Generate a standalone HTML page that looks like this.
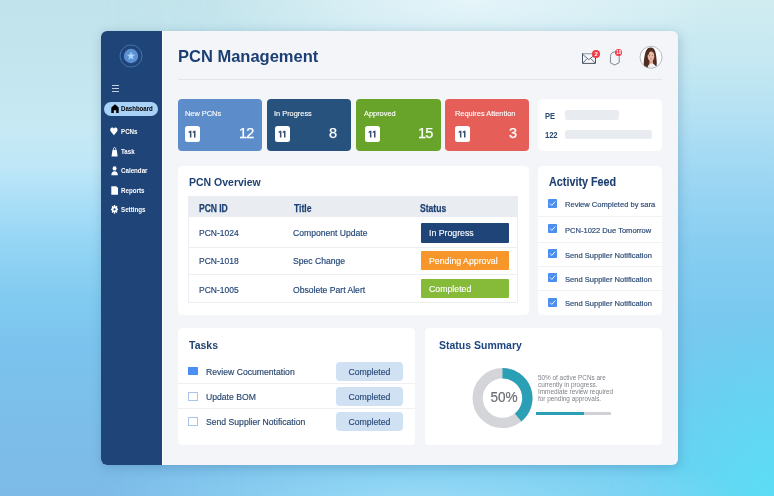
<!DOCTYPE html>
<html><head><meta charset="utf-8"><style>
html,body{margin:0;padding:0;}
body{width:774px;height:496px;overflow:hidden;position:relative;font-family:"Liberation Sans", sans-serif;
background:linear-gradient(180deg,#c1e3eb 0px,#c3e5ee 60px,#c6e9f4 130px,#bfe7f8 165px,#a6ddf7 210px,#92d4f4 250px,#81caf0 300px,#7bc3ee 350px,#7cbeea 420px,#7dbae8 496px);}
#bgR{left:0;top:0;width:774px;height:496px;background:radial-gradient(ellipse 140px 190px at 774px 496px, rgba(90,222,246,0.9), rgba(90,222,246,0) 100%),linear-gradient(180deg,#d0ecf1 0px,#c6e8f2 60px,#b2e0f3 120px,#9cd6f3 180px,#86cdf1 250px,#79c8ef 320px,#70caef 400px,#6ad0f1 496px);
 -webkit-mask-image:linear-gradient(90deg,transparent 101px,#000 678px);mask-image:linear-gradient(90deg,transparent 101px,#000 678px);}
#bgL{left:0;top:0;width:774px;height:496px;background:radial-gradient(ellipse 260px 70px at 470px 0px, rgba(232,246,251,0.9), rgba(232,246,251,0) 100%),
 radial-gradient(ellipse 330px 55px at 420px 500px, rgba(160,222,248,0.85), rgba(160,222,248,0) 100%);}
body > div, body > svg{position:absolute;}
.t,.badge{will-change:transform;}
.t{position:absolute;white-space:nowrap;line-height:1;}
.badge{position:absolute;border-radius:50%;background:#ef3a45;color:#fff;font-weight:bold;text-align:center;}
.nb{position:absolute;width:15.2px;height:15.2px;background:#fff;border-radius:2.5px;color:#2a3d58;font-weight:bold;font-size:8.6px;line-height:15.6px;text-align:center;letter-spacing:-0.6px;text-indent:-0.6px;}
#shadow{left:101px;top:31px;width:577px;height:434px;border-radius:6px;box-shadow:1px 2px 11px rgba(60,100,135,0.3);}
</style></head><body>
<div id="bgR"></div>
<div id="bgL"></div>
<div id="shadow"></div>
<div style="left:101px;top:31px;width:577px;height:434px;background:#f4f5f9;border-radius:6px;"></div>
<div style="left:101px;top:31px;width:61px;height:434px;background:#1f4477;border-radius:0px;border-radius:6px 0 0 6px;"></div>
<div style="left:162px;top:31px;width:1px;height:434px;background:#fbfcfd;border-radius:0px;"></div>
<svg style="position:absolute;left:119px;top:44px" width="24" height="24" viewBox="0 0 24 24">
<circle cx="12" cy="12" r="11" fill="none" stroke="#4a7dbf" stroke-width="0.8"/>
<circle cx="12" cy="12" r="7.2" fill="#5b8fd1"/>
<path d="M12.00 8.30 L12.95 10.79 L15.61 10.93 L13.54 12.60 L14.23 15.17 L12.00 13.72 L9.77 15.17 L10.46 12.60 L8.39 10.93 L11.05 10.79 Z" stroke="#aad6fb" stroke-width="0.5" stroke-linejoin="round" fill="#aad6fb"/>
</svg>
<div style="left:112.3px;top:85.3px;width:6.6px;height:0.6px;background:#c3cfdf;border-radius:0px;"></div>
<div style="left:112.3px;top:87.9px;width:6.6px;height:0.6px;background:#c3cfdf;border-radius:0px;"></div>
<div style="left:112.3px;top:90.5px;width:6.6px;height:0.6px;background:#c3cfdf;border-radius:0px;"></div>
<div style="left:104.1px;top:102px;width:54px;height:14px;background:#a8d3f7;border-radius:7px;"></div>
<svg style="position:absolute;left:110.5px;top:103.5px" width="8" height="9.5" viewBox="0 0 8 9.5">
<path d="M4 0.3 L7.7 3.6 L7.7 9.2 L5.2 9.2 L5.2 6.3 L2.8 6.3 L2.8 9.2 L0.3 9.2 L0.3 3.6 Z" fill="#000"/></svg>
<div class="t" style="left:121.4px;top:105.74px;font-size:6.1px;color:#000;font-weight:bold;transform:scaleY(1.18);transform-origin:0 5.16px;">Dashboard</div>
<div class="t" style="left:121.2px;top:128.95px;font-size:6.2px;color:#fff;font-weight:bold;transform:scaleY(1.2);transform-origin:0 5.25px;">PCNs</div>
<div class="t" style="left:121.2px;top:149.15px;font-size:6.2px;color:#fff;font-weight:bold;transform:scaleY(1.2);transform-origin:0 5.25px;">Task</div>
<div class="t" style="left:121.2px;top:167.95px;font-size:6.2px;color:#fff;font-weight:bold;transform:scaleY(1.2);transform-origin:0 5.25px;">Calendar</div>
<div class="t" style="left:121.2px;top:188.15px;font-size:6.2px;color:#fff;font-weight:bold;transform:scaleY(1.2);transform-origin:0 5.25px;">Reports</div>
<div class="t" style="left:121.2px;top:207.15px;font-size:6.2px;color:#fff;font-weight:bold;transform:scaleY(1.2);transform-origin:0 5.25px;">Settings</div>
<svg style="position:absolute;left:110.4px;top:127.2px" width="7.8" height="8.6" viewBox="0 0 9 9" preserveAspectRatio="none">
<path d="M4.5 8.6 L0.9 4.7 C-0.3 3.3 0.3 0.6 2.4 0.6 C3.4 0.6 4.1 1.2 4.5 1.9 C4.9 1.2 5.6 0.6 6.6 0.6 C8.7 0.6 9.3 3.3 8.1 4.7 Z" fill="#fff"/></svg>
<svg style="position:absolute;left:110.9px;top:146.6px" width="7.2" height="10" viewBox="0 0 8 10" preserveAspectRatio="none">
<path d="M2.6 3 C2.6 1.2 3.2 0.4 4 0.4 C4.8 0.4 5.4 1.2 5.4 3" fill="none" stroke="#fff" stroke-width="0.9"/>
<path d="M1.6 3 L6.4 3 L7.4 9.6 L0.6 9.6 Z" fill="#fff"/></svg>
<svg style="position:absolute;left:110.9px;top:166.4px" width="7.2" height="9.5" viewBox="0 0 8 9.5" preserveAspectRatio="none">
<circle cx="4" cy="2.4" r="2.2" fill="#fff"/>
<path d="M0.4 9.3 C0.4 6.6 1.8 5.3 4 5.3 C6.2 5.3 7.6 6.6 7.6 9.3 Z" fill="#fff"/></svg>
<svg style="position:absolute;left:110.8px;top:185.8px" width="7.5" height="9" viewBox="0 0 7.5 9">
<path d="M0.3 0.2 L5.2 0.2 L7.2 2.3 L7.2 8.8 L0.3 8.8 Z" fill="#fff"/></svg>
<svg style="position:absolute;left:110.8px;top:205.2px" width="7.1" height="8.7" viewBox="0 0 8 8" preserveAspectRatio="none">
<g fill="#fff"><circle cx="4" cy="4" r="2.8"/>
<rect x="3.2" y="0" width="1.6" height="8" rx="0.4"/>
<rect x="0" y="3.2" width="8" height="1.6" rx="0.4"/>
<rect x="3.2" y="0" width="1.6" height="8" rx="0.4" transform="rotate(45 4 4)"/>
<rect x="3.2" y="0" width="1.6" height="8" rx="0.4" transform="rotate(-45 4 4)"/></g>
<circle cx="4" cy="4" r="1.1" fill="#1f4477"/></svg>
<div class="t" style="left:178.3px;top:47.63px;font-size:16.5px;color:#1b3f74;font-weight:bold;">PCN Management</div>
<div style="left:178px;top:79px;width:484px;height:1px;background:#e1e4e9;border-radius:0px;"></div>
<svg style="position:absolute;left:581px;top:52px" width="17" height="13" viewBox="0 0 17 13">
<path d="M1.5 1.7 L14.5 1.7" stroke="#a3acb5" stroke-width="1.3"/>
<path d="M1.5 1.2 L1.5 11.4 L14.5 11.4 L14.5 1.2" fill="none" stroke="#4b5662" stroke-width="1"/>
<path d="M1.9 2.6 L7.9 7.6 L14.1 2.6 M1.9 11 L5.9 6.8 M14.1 11 L10 6.8" fill="none" stroke="#4b5662" stroke-width="0.85"/></svg>
<div class="badge" style="left:591.8px;top:49.7px;width:8.4px;height:8.4px;font-size:6px;line-height:8.6px">2</div>
<svg style="position:absolute;left:609px;top:50px" width="13" height="17" viewBox="0 0 13 17">
<path d="M5.9 1.9 C3 1.9 1.6 3.8 1.5 6.6 L1.3 12.7 L5.6 15 L10.2 12.7 L10.2 6.6 C10.2 3.8 8.7 1.9 5.9 1.9 Z" fill="none" stroke="#5f6a76" stroke-width="0.8" stroke-linejoin="round"/></svg>
<div class="badge" style="left:614.7px;top:49.3px;width:7.4px;height:7.4px;font-size:4.5px;line-height:7.4px">10</div>
<svg style="position:absolute;left:639px;top:45px" width="24" height="24" viewBox="0 0 24 24">
<defs><clipPath id="av"><circle cx="12" cy="12.3" r="11"/></clipPath></defs>
<circle cx="12" cy="12.3" r="11" fill="#fff"/>
<g clip-path="url(#av)">
<path d="M4.8 24 C4.4 17 5.4 9.5 7.2 5.6 C8.5 3.2 10 2.6 11.6 2.6 C13.8 2.6 15.6 4 16.4 7 C17.2 10 17.6 14 17.8 18 L17.6 21 L13 21 L9 24 Z" fill="#4f2d23"/>
<path d="M10.6 15 L13.8 15 L14.2 19 L10.2 19 Z" fill="#dca78f"/>
<ellipse cx="12" cy="11.2" rx="3.3" ry="4.7" fill="#e8b8a2"/>
<path d="M8.3 9.5 C8.6 5.8 10.4 4.3 12.2 4.4 C10.9 5.6 10.1 7.3 9.6 9.8 Z" fill="#4f2d23"/>
<path d="M14.8 6 C15.6 7.2 15.6 9 15.4 10.5 L15.9 10.5 C16 8.5 15.8 7 14.8 6 Z" fill="#4f2d23"/>
<circle cx="10.7" cy="10.5" r="0.4" fill="#3a221b"/><circle cx="13.3" cy="10.5" r="0.4" fill="#3a221b"/>
<ellipse cx="12.1" cy="13.8" rx="1.2" ry="0.45" fill="#c9736d"/>
<path d="M8.2 24 C8.8 20.2 10.4 18.6 12.4 18.6 C14.6 18.6 16.6 19.8 17.6 24 Z" fill="#f3f0ee"/>
</g>
<circle cx="12" cy="12.3" r="11" fill="none" stroke="#9a9ea4" stroke-width="0.7"/></svg>
<div style="left:178px;top:99px;width:84px;height:52px;background:#5c8cc9;border-radius:4px;"></div>
<div class="t" style="left:184.6px;top:109.84px;font-size:7.4px;color:#fff;-webkit-text-stroke:0.12px #fff;">New PCNs</div>
<div class="nb" style="left:185.2px;top:126.4px"></div>
<svg style="position:absolute;left:185.2px;top:126.4px" width="16" height="16" viewBox="0 0 16 16"><path d="M4.800000000000001 4.7 L6.4 4.7 L6.4 11.5 L4.9 11.5 L4.9 6.4 L3.6000000000000005 7.1 L3.6000000000000005 5.8 Z M8.9 4.7 L10.5 4.7 L10.5 11.5 L9.0 11.5 L9.0 6.4 L7.7 7.1 L7.7 5.8 Z" fill="#384e6e"/></svg>
<div class="t" style="left:238.5px;top:126.43px;font-size:14.5px;color:#fff;letter-spacing:-0.7px;-webkit-text-stroke:0.25px #fff;">12</div>
<div style="left:267px;top:99px;width:84.2px;height:52px;background:#27527e;border-radius:4px;"></div>
<div class="t" style="left:274.0px;top:109.84px;font-size:7.4px;color:#fff;-webkit-text-stroke:0.12px #fff;">In Progress</div>
<div class="nb" style="left:274.9px;top:126.4px"></div>
<svg style="position:absolute;left:274.9px;top:126.4px" width="16" height="16" viewBox="0 0 16 16"><path d="M4.800000000000001 4.7 L6.4 4.7 L6.4 11.5 L4.9 11.5 L4.9 6.4 L3.6000000000000005 7.1 L3.6000000000000005 5.8 Z M8.9 4.7 L10.5 4.7 L10.5 11.5 L9.0 11.5 L9.0 6.4 L7.7 7.1 L7.7 5.8 Z" fill="#384e6e"/></svg>
<div class="t" style="left:328.5px;top:126.43px;font-size:14.5px;color:#fff;letter-spacing:-0.7px;-webkit-text-stroke:0.25px #fff;">8</div>
<div style="left:356px;top:99px;width:84.5px;height:52px;background:#68a32a;border-radius:4px;"></div>
<div class="t" style="left:364.2px;top:109.84px;font-size:7.4px;color:#fff;-webkit-text-stroke:0.12px #fff;">Approved</div>
<div class="nb" style="left:364.9px;top:126.4px"></div>
<svg style="position:absolute;left:364.9px;top:126.4px" width="16" height="16" viewBox="0 0 16 16"><path d="M4.800000000000001 4.7 L6.4 4.7 L6.4 11.5 L4.9 11.5 L4.9 6.4 L3.6000000000000005 7.1 L3.6000000000000005 5.8 Z M8.9 4.7 L10.5 4.7 L10.5 11.5 L9.0 11.5 L9.0 6.4 L7.7 7.1 L7.7 5.8 Z" fill="#384e6e"/></svg>
<div class="t" style="left:418.1px;top:126.43px;font-size:14.5px;color:#fff;letter-spacing:-0.7px;-webkit-text-stroke:0.25px #fff;">15</div>
<div style="left:445px;top:99px;width:84.3px;height:52px;background:#e55e58;border-radius:4px;"></div>
<div class="t" style="left:454.6px;top:109.84px;font-size:7.4px;color:#fff;-webkit-text-stroke:0.12px #fff;">Requires Attention</div>
<div class="nb" style="left:454.9px;top:126.4px"></div>
<svg style="position:absolute;left:454.9px;top:126.4px" width="16" height="16" viewBox="0 0 16 16"><path d="M4.800000000000001 4.7 L6.4 4.7 L6.4 11.5 L4.9 11.5 L4.9 6.4 L3.6000000000000005 7.1 L3.6000000000000005 5.8 Z M8.9 4.7 L10.5 4.7 L10.5 11.5 L9.0 11.5 L9.0 6.4 L7.7 7.1 L7.7 5.8 Z" fill="#384e6e"/></svg>
<div class="t" style="left:508.7px;top:126.43px;font-size:14.5px;color:#fff;letter-spacing:-0.7px;-webkit-text-stroke:0.25px #fff;">3</div>
<div style="left:538px;top:99px;width:124px;height:52px;background:#fff;border-radius:5px;"></div>
<div class="t" style="left:544.8px;top:112.87px;font-size:7.6px;color:#2b4a73;font-weight:bold;transform:scaleY(1.15);transform-origin:0 6.43px;">PE</div>
<div style="left:565.3px;top:110.3px;width:53.7px;height:9.6px;background:#e8ebf0;border-radius:2.5px;"></div>
<div class="t" style="left:544.8px;top:131.78px;font-size:7.7px;color:#2b4a73;font-weight:bold;letter-spacing:-0.1px;transform:scaleY(1.15);transform-origin:0 6.52px;">122</div>
<div style="left:565.3px;top:129.8px;width:86.7px;height:9.2px;background:#e8ebf0;border-radius:2.5px;"></div>
<div style="left:178px;top:166px;width:351px;height:149px;background:#fff;border-radius:4.5px;"></div>
<div class="t" style="left:188.9px;top:177.11px;font-size:10.5px;color:#1f4274;font-weight:bold;">PCN Overview</div>
<div style="left:188px;top:196px;width:330px;height:20.5px;background:#e9edf2;border-radius:0px;"></div>
<div style="left:188px;top:216.5px;width:1px;height:85.5px;background:#eceef2;border-radius:0px;"></div>
<div style="left:517px;top:216.5px;width:1px;height:85.5px;background:#eceef2;border-radius:0px;"></div>
<div style="left:188px;top:246.5px;width:330px;height:1px;background:#eceef2;border-radius:0px;"></div>
<div style="left:188px;top:274.0px;width:330px;height:1px;background:#eceef2;border-radius:0px;"></div>
<div style="left:188px;top:301.6px;width:330px;height:1px;background:#eceef2;border-radius:0px;"></div>
<div class="t" style="left:199px;top:204.92px;font-size:8.6px;color:#1f4274;font-weight:bold;letter-spacing:-0.1px;transform:scaleY(1.25);transform-origin:0 7.28px;-webkit-text-stroke:0.2px #1f4274;">PCN ID</div>
<div class="t" style="left:294px;top:204.92px;font-size:8.6px;color:#1f4274;font-weight:bold;transform:scaleY(1.25);transform-origin:0 7.28px;-webkit-text-stroke:0.2px #1f4274;">Title</div>
<div class="t" style="left:420.4px;top:204.92px;font-size:8.6px;color:#1f4274;font-weight:bold;transform:scaleY(1.25);transform-origin:0 7.28px;-webkit-text-stroke:0.2px #1f4274;">Status</div>
<div class="t" style="left:199px;top:229.20px;font-size:8.5px;color:#1f4274;-webkit-text-stroke:0.15px #1f4274;">PCN-1024</div>
<div class="t" style="left:292.6px;top:229.12px;font-size:8.6px;color:#1f4274;-webkit-text-stroke:0.15px #1f4274;">Component Update</div>
<div style="left:421px;top:223.4px;width:87.5px;height:19.2px;background:#1f4478;border-radius:1px;"></div>
<div class="t" style="left:428.8px;top:229.09px;font-size:8.75px;color:#fff;-webkit-text-stroke:0.12px #fff;">In Progress</div>
<div class="t" style="left:199px;top:256.80px;font-size:8.5px;color:#1f4274;-webkit-text-stroke:0.15px #1f4274;">PCN-1018</div>
<div class="t" style="left:292.6px;top:256.72px;font-size:8.6px;color:#1f4274;-webkit-text-stroke:0.15px #1f4274;">Spec Change</div>
<div style="left:421px;top:251.0px;width:87.5px;height:19.2px;background:#f7962a;border-radius:1px;"></div>
<div class="t" style="left:428.8px;top:256.69px;font-size:8.75px;color:#fff;-webkit-text-stroke:0.12px #fff;">Pending Approval</div>
<div class="t" style="left:199px;top:285.80px;font-size:8.5px;color:#1f4274;-webkit-text-stroke:0.15px #1f4274;">PCN-1005</div>
<div class="t" style="left:292.6px;top:285.72px;font-size:8.6px;color:#1f4274;-webkit-text-stroke:0.15px #1f4274;">Obsolete Part Alert</div>
<div style="left:421px;top:278.90000000000003px;width:87.5px;height:19.2px;background:#86bb3a;border-radius:1px;"></div>
<div class="t" style="left:428.8px;top:284.59px;font-size:8.75px;color:#fff;-webkit-text-stroke:0.12px #fff;">Completed</div>
<div style="left:538px;top:166px;width:124px;height:149px;background:#fff;border-radius:4.5px;"></div>
<div class="t" style="left:548.5px;top:176.56px;font-size:10.8px;color:#1d3f70;font-weight:bold;transform:scaleY(1.11);transform-origin:0 9.14px;-webkit-text-stroke:0.1px #1d3f70;">Activity Feed</div>
<svg style="position:absolute;left:548px;top:199.2px" width="9" height="9" viewBox="0 0 9 9">
<rect width="9" height="9" rx="0.8" fill="#4b8ff2"/><path d="M2 4.6 L3.8 6.4 L7.2 2.6" fill="none" stroke="#fff" stroke-width="0.9"/></svg>
<div class="t" style="left:564.8px;top:200.61px;font-size:7.55px;color:#2b4a75;-webkit-text-stroke:0.18px #2b4a75;">Review Completed by sara</div>
<svg style="position:absolute;left:548px;top:224.0px" width="9" height="9" viewBox="0 0 9 9">
<rect width="9" height="9" rx="0.8" fill="#4b8ff2"/><path d="M2 4.6 L3.8 6.4 L7.2 2.6" fill="none" stroke="#fff" stroke-width="0.9"/></svg>
<div class="t" style="left:564.8px;top:227.01px;font-size:7.55px;color:#2b4a75;-webkit-text-stroke:0.18px #2b4a75;">PCN-1022 Due Tomorrow</div>
<svg style="position:absolute;left:548px;top:249.0px" width="9" height="9" viewBox="0 0 9 9">
<rect width="9" height="9" rx="0.8" fill="#4b8ff2"/><path d="M2 4.6 L3.8 6.4 L7.2 2.6" fill="none" stroke="#fff" stroke-width="0.9"/></svg>
<div class="t" style="left:564.8px;top:251.91px;font-size:7.55px;color:#2b4a75;-webkit-text-stroke:0.18px #2b4a75;">Send Supplier Notification</div>
<svg style="position:absolute;left:548px;top:273.4px" width="9" height="9" viewBox="0 0 9 9">
<rect width="9" height="9" rx="0.8" fill="#4b8ff2"/><path d="M2 4.6 L3.8 6.4 L7.2 2.6" fill="none" stroke="#fff" stroke-width="0.9"/></svg>
<div class="t" style="left:564.8px;top:276.01px;font-size:7.55px;color:#2b4a75;-webkit-text-stroke:0.18px #2b4a75;">Send Supplier Notification</div>
<svg style="position:absolute;left:548px;top:298.3px" width="9" height="9" viewBox="0 0 9 9">
<rect width="9" height="9" rx="0.8" fill="#4b8ff2"/><path d="M2 4.6 L3.8 6.4 L7.2 2.6" fill="none" stroke="#fff" stroke-width="0.9"/></svg>
<div class="t" style="left:564.8px;top:300.31px;font-size:7.55px;color:#2b4a75;-webkit-text-stroke:0.18px #2b4a75;">Send Supplier Notification</div>
<div style="left:538px;top:215.7px;width:124px;height:1px;background:#f0f2f5;border-radius:0px;"></div>
<div style="left:538px;top:241.6px;width:124px;height:1px;background:#f0f2f5;border-radius:0px;"></div>
<div style="left:538px;top:265.5px;width:124px;height:1px;background:#f0f2f5;border-radius:0px;"></div>
<div style="left:538px;top:289.6px;width:124px;height:1px;background:#f0f2f5;border-radius:0px;"></div>
<div style="left:178px;top:328px;width:236.8px;height:116.7px;background:#fff;border-radius:4.5px;"></div>
<div class="t" style="left:189.2px;top:340.11px;font-size:10.5px;color:#1f4274;font-weight:bold;transform:scaleY(1.08);transform-origin:0 8.89px;">Tasks</div>
<div style="left:188.4px;top:367px;width:9.2px;height:8.4px;background:#4b8ff2;border-radius:0.5px;"></div>
<div style="left:188.4px;top:392px;width:9.2px;height:8.6px;background:#fff;border-radius:0.5px;box-sizing:border-box;border:1px solid #a9c5ea;"></div>
<div style="left:188.4px;top:417.2px;width:9.2px;height:8.8px;background:#fff;border-radius:0.5px;box-sizing:border-box;border:1px solid #a9c5ea;"></div>
<div class="t" style="left:205.5px;top:367.78px;font-size:8.65px;color:#27476f;-webkit-text-stroke:0.15px #27476f;">Review Cocumentation</div>
<div style="left:336.3px;top:361.8px;width:66.8px;height:18.9px;background:#d0e1f4;border-radius:4px;"></div>
<div class="t" style="left:336.3px;width:66.8px;text-align:center;top:367.64px;font-size:8.7px;color:#2a4a78;-webkit-text-stroke:0.15px #2a4a78">Completed</div>
<div class="t" style="left:205.5px;top:392.58px;font-size:8.65px;color:#27476f;-webkit-text-stroke:0.15px #27476f;">Update BOM</div>
<div style="left:336.3px;top:387.0px;width:66.8px;height:18.9px;background:#d0e1f4;border-radius:4px;"></div>
<div class="t" style="left:336.3px;width:66.8px;text-align:center;top:392.84px;font-size:8.7px;color:#2a4a78;-webkit-text-stroke:0.15px #2a4a78">Completed</div>
<div class="t" style="left:205.5px;top:417.68px;font-size:8.65px;color:#27476f;-webkit-text-stroke:0.15px #27476f;">Send Supplier Notification</div>
<div style="left:336.3px;top:411.9px;width:66.8px;height:18.9px;background:#d0e1f4;border-radius:4px;"></div>
<div class="t" style="left:336.3px;width:66.8px;text-align:center;top:417.74px;font-size:8.7px;color:#2a4a78;-webkit-text-stroke:0.15px #2a4a78">Completed</div>
<div style="left:178px;top:383.1px;width:236.8px;height:1px;background:#eef0f3;border-radius:0px;"></div>
<div style="left:178px;top:407.8px;width:236.8px;height:1px;background:#eef0f3;border-radius:0px;"></div>
<div style="left:424.7px;top:328px;width:237.3px;height:116.7px;background:#fff;border-radius:4.5px;"></div>
<div class="t" style="left:438.9px;top:340.01px;font-size:10.5px;color:#1d4580;font-weight:bold;transform:scaleY(1.08);transform-origin:0 8.89px;">Status Summary</div>
<svg style="position:absolute;left:0;top:0" width="774" height="496">
<circle cx="502.5" cy="398.1" r="24.85" fill="none" stroke="#d3d5d8" stroke-width="10.3"/>
<path d="M502.5 373.25 A24.85 24.85 0 0 1 518.14 417.41" fill="none" stroke="#2a9fb6" stroke-width="10.3"/></svg>
<div class="t" style="left:472.6px;width:62px;text-align:center;top:391.49px;font-size:13.6px;color:#6b6f74;-webkit-text-stroke:0.2px #6b6f74;transform:scaleY(1.07);transform-origin:0 11.51px">50%</div>
<div class="t" style="left:537.5px;top:374.70px;font-size:6.38px;color:#7f8287;">50% of active PCNs are</div>
<div class="t" style="left:537.5px;top:381.70px;font-size:6.38px;color:#7f8287;">currently in progress.</div>
<div class="t" style="left:537.5px;top:388.70px;font-size:6.38px;color:#7f8287;">Immediate review required</div>
<div class="t" style="left:537.5px;top:395.70px;font-size:6.38px;color:#7f8287;">for pending approvals.</div>
<div style="left:536px;top:412.2px;width:75px;height:2.8px;background:#cfd1d4;border-radius:0px;"></div>
<div style="left:536px;top:412.2px;width:48.4px;height:2.8px;background:#2a9fb6;border-radius:0px;"></div>
</body></html>
